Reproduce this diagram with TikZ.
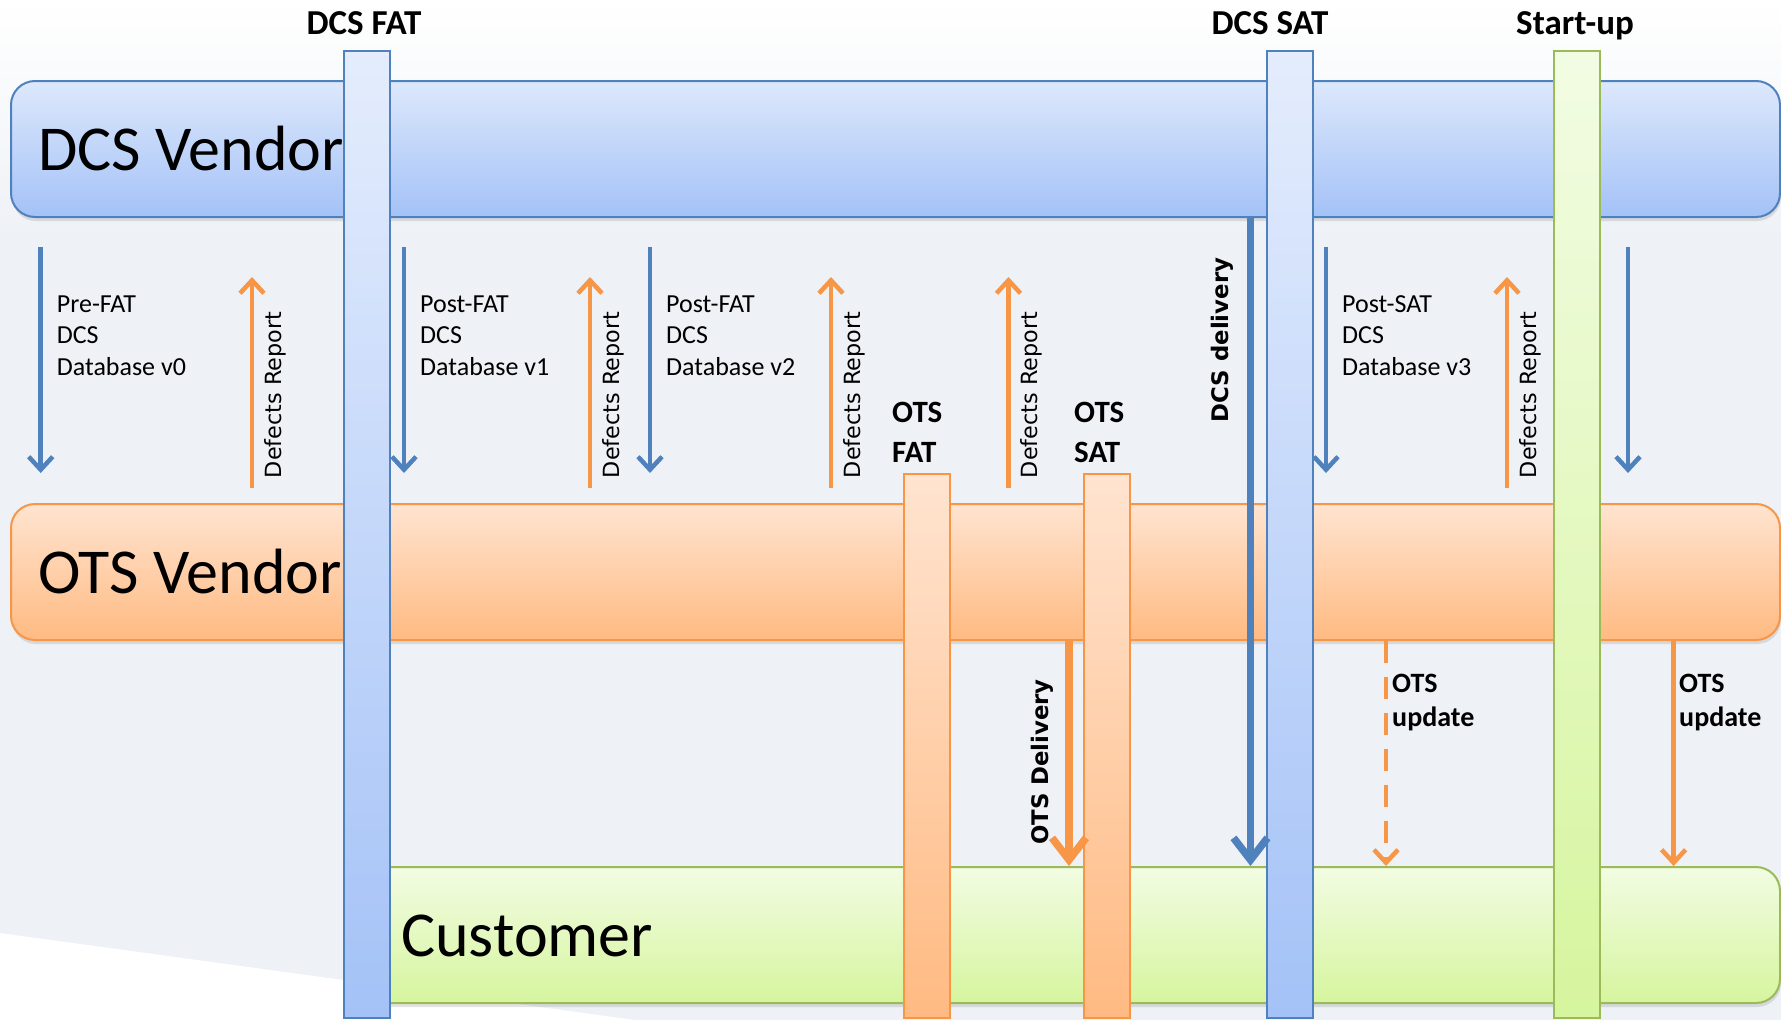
\documentclass[tikz,border=0pt]{standalone}
\usepackage{fontspec}
\setmainfont{Carlito}
\newfontfamily\dvsans{DejaVu Sans}
\usetikzlibrary{arrows.meta,shadows}
\definecolor{bg}{HTML}{EEF1F6}
\definecolor{blueline}{HTML}{4F81BD}
\definecolor{orangeline}{HTML}{F79646}
\definecolor{greenline}{HTML}{9BBB59}
\definecolor{bluetop}{HTML}{DDE8FC}
\definecolor{bluebot}{HTML}{A4C2F7}
\definecolor{orangetop}{HTML}{FFE4D0}
\definecolor{orangebot}{HTML}{FFBA82}
\definecolor{greentop}{HTML}{F2FCE3}
\definecolor{greenbot}{HTML}{D6F59E}
\begin{document}
\begin{tikzpicture}[x=1pt,y=-1pt,
  lane/.style={draw, line width=2pt, rounded corners=24pt, inner sep=0pt, anchor=north west,
    drop shadow={shadow xshift=1pt,shadow yshift=-4pt,opacity=0.22}},
  bluelane/.style={lane, draw=blueline, top color=bluetop, bottom color=bluebot},
  orangelane/.style={lane, draw=orangeline, top color=orangetop, bottom color=orangebot},
  greenlane/.style={lane, draw=greenline, top color=greentop, bottom color=greenbot},
  bar/.style={draw, line width=1.8pt, inner sep=0pt, anchor=north west, minimum width=46pt},
  bluebar/.style={bar, draw=blueline, top color=bluetop!80!white, bottom color=bluebot},
  orangebar/.style={bar, draw=orangeline, top color=orangetop, bottom color=orangebot},
  greenbar/.style={bar, draw=greenline, top color=greentop, bottom color=greenbot},
  biglabel/.style={font=\fontsize{64}{76}\selectfont, inner sep=0pt, anchor=base west},
  title/.style={font=\fontsize{35}{42}\selectfont\bfseries, inner sep=0pt, anchor=base},
  note/.style={font=\fontsize{26}{32}\selectfont, inner sep=0pt, anchor=base west},
  bnote/.style={font=\fontsize{31}{38}\selectfont\bfseries, inner sep=0pt, anchor=base west},
  unote/.style={font=\fontsize{28}{34}\selectfont\bfseries, inner sep=0pt, anchor=base west},
  defect/.style={font=\dvsans\fontsize{22.3}{27}\selectfont, inner sep=0pt, anchor=base, rotate=90},
  deliv/.style={font=\dvsans\bfseries\fontsize{22.8}{27}\selectfont, inner sep=0pt, anchor=base, rotate=90},
  bluearr/.style={draw=blueline, line width=4.5pt, -{Straight Barb[length=13pt,width=24pt]}},
  orangearr/.style={draw=orangeline, line width=4.5pt, -{Straight Barb[length=13pt,width=24pt]}},
  bluethick/.style={draw=blueline, line width=7.5pt, -{Straight Barb[length=22pt,width=34pt]}},
  orangethick/.style={draw=orangeline, line width=7.5pt, -{Straight Barb[length=22pt,width=34pt]}}
]
\useasboundingbox (0,0) rectangle (1781,1020);
% background
\fill[bg] (0,0) rectangle (1781,1020);
\shade[top color=white, bottom color=bg] (0,0) rectangle (1781,240);
\fill[white] (0,933) -- (635,1020) -- (0,1020) -- cycle;

% lanes
\node[bluelane, minimum width=1769pt, minimum height=136pt] (dcs) at (10,80) {};
\node[orangelane, minimum width=1769pt, minimum height=136pt] (ots) at (10,503) {};
\node[greenlane, minimum width=1429pt, minimum height=136pt] (cust) at (350,866) {};
\node[biglabel] (dcsl) at (38,170) {DCS Vendor};
\node[biglabel] (otsl) at (38,593) {OTS Vendor};
\node[biglabel] (custl) at (401,956) {Customer};

% milestone bars
\node[bluebar, minimum height=967pt] (fat) at (343,50) {};
\node[bluebar, minimum height=967pt] (sat) at (1266,50) {};
\node[greenbar, minimum height=967pt] (startup) at (1553,50) {};
\node[orangebar, minimum height=544pt] (otsfat) at (903,473) {};
\node[orangebar, minimum height=544pt] (otssat) at (1083,473) {};

\node[title] (fatt) at (364,34) {DCS FAT};
\node[title] (satt) at (1270,34) {DCS SAT};
\node[title] (startt) at (1575,34) {Start-up};
\node[bnote] (otsfat1) at (892,422) {OTS};
\node[bnote] (otsfat2) at (892,462) {FAT};
\node[bnote] (otssat1) at (1074,422) {OTS};
\node[bnote] (otssat2) at (1074,462) {SAT};

% database arrows (DCS vendor -> OTS vendor)
\foreach \n/\x in {a/40.7, b/404, c/650, d/1326, e/1628} {
  \coordinate (db\n s) at (\x,247);
  \coordinate (db\n e) at (\x,473);
  \draw[bluearr] (db\n s) -- (db\n e);
}
\node[note] (pa1) at (56.7,312) {Pre-FAT};
\node[note] (pa2) at (56.7,343.5) {DCS};
\node[note] (pa3) at (56.7,375) {Database v0};
\node[note] (pb1) at (420,312) {Post-FAT};
\node[note] (pb2) at (420,343.5) {DCS};
\node[note] (pb3) at (420,375) {Database v1};
\node[note] (pc1) at (666,312) {Post-FAT};
\node[note] (pc2) at (666,343.5) {DCS};
\node[note] (pc3) at (666,375) {Database v2};
\node[note] (pd1) at (1342,312) {Post-SAT};
\node[note] (pd2) at (1342,343.5) {DCS};
\node[note] (pd3) at (1342,375) {Database v3};

% defects report arrows (OTS vendor -> DCS vendor)
\foreach \n/\x in {a/252, b/590, c/831, d/1008.5, e/1507} {
  \coordinate (df\n s) at (\x,488);
  \coordinate (df\n e) at (\x,277);
  \draw[orangearr] (df\n s) -- (df\n e);
  \node[defect] (dft\n) at (\x+29,395) {Defects Report};
}

% deliveries
\coordinate (dcsdelx) at (1250.5,0);
\coordinate (otsdelx) at (1069,0);
\coordinate (upd1x) at (1386,0);
\coordinate (upd2x) at (1673.6,0);
\draw[bluethick] (dcs.south -| dcsdelx) -- (cust.north -| dcsdelx);
\node[deliv] (dcsdel) at (1228,340) {DCS delivery};
\draw[orangethick] (ots.south -| otsdelx) -- (cust.north -| otsdelx);
\node[deliv] (otsdel) at (1048,762) {OTS Delivery};
\draw[orangearr, dash pattern=on 22pt off 14pt] (ots.south -| upd1x) -- (cust.north -| upd1x);
\draw[orangearr] (ots.south -| upd2x) -- (cust.north -| upd2x);
\node[unote] (u1a) at (1392,692) {OTS};
\node[unote] (u1b) at (1392,726) {update};
\node[unote] (u2a) at (1679,692) {OTS};
\node[unote] (u2b) at (1679,726) {update};
\end{tikzpicture}
\end{document}
